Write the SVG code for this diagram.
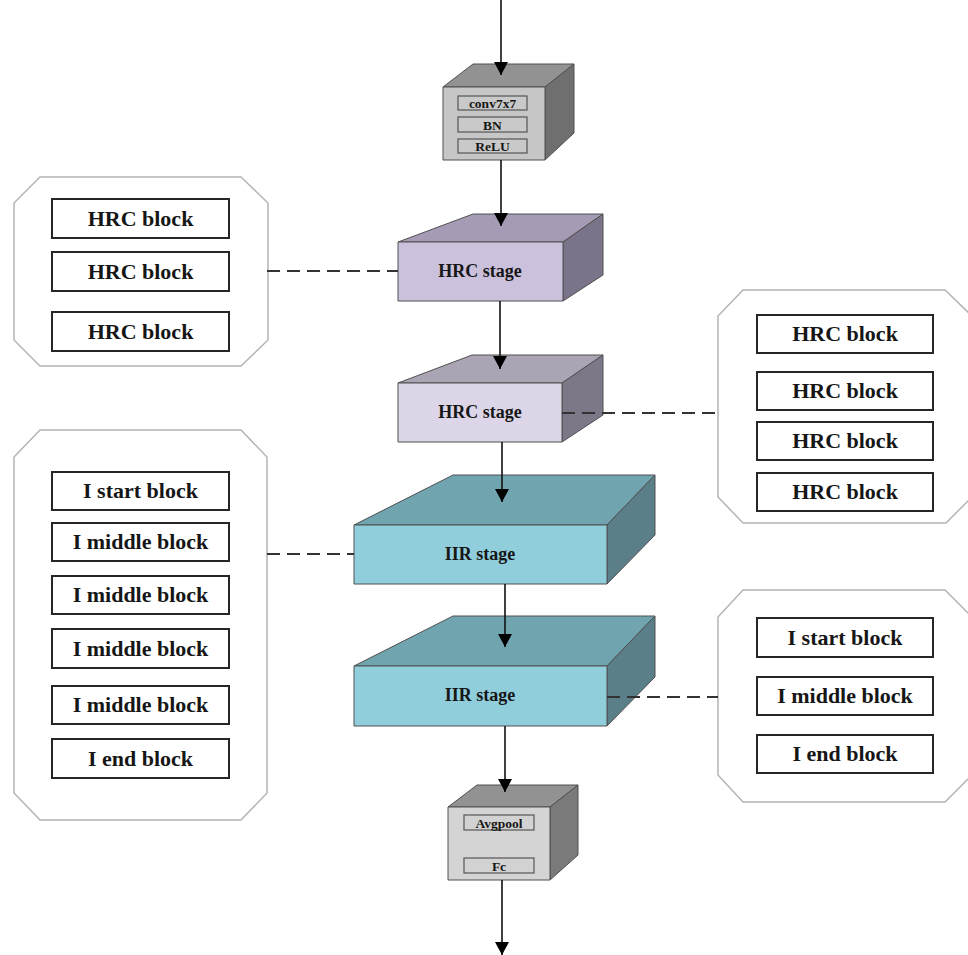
<svg xmlns="http://www.w3.org/2000/svg" width="968" height="955" viewBox="0 0 968 955">
<style>
.t{font-family:"Liberation Serif","Times New Roman",serif;font-weight:bold;fill:#161616;text-anchor:middle}
.blk{font-size:22px}
.stg{font-size:18px}
.sm{font-size:13.5px}
.panel{fill:#fff;stroke:#b4b4b4;stroke-width:1.5}
.box{fill:#fff;stroke:#262626;stroke-width:2}
.edge{stroke:#505050;stroke-width:1;stroke-linejoin:round}
.inner{stroke:#555;stroke-width:1.2}
.flow{stroke:#111;stroke-width:1.6;fill:none}
.dash{stroke:#333;stroke-width:1.8;stroke-dasharray:13 7;fill:none}
</style>
<defs>
<marker id="ah" markerWidth="14" markerHeight="14" refX="13" refY="7" orient="auto" markerUnits="userSpaceOnUse">
<path d="M0,0 L13,7 L0,14 z" fill="#000"/>
</marker>
</defs>
<rect width="968" height="955" fill="#fff"/>

<g id="conv">
<polygon class="edge" points="443,87 473,64 574,64 545,87" fill="#929292"/>
<polygon class="edge" points="545,87 574,64 574,133 545,160" fill="#6f6f6f"/>
<rect class="edge" x="443" y="87" width="102" height="73" fill="#c6c6c6"/>
<rect class="inner" x="458" y="96" width="69" height="14" fill="#c9c9c9"/>
<rect class="inner" x="458" y="117" width="69" height="15" fill="#c9c9c9"/>
<rect class="inner" x="458" y="139" width="69" height="14" fill="#c9c9c9"/>
<text class="t sm" x="492.5" y="108">conv7x7</text>
<text class="t sm" x="492.5" y="129.5">BN</text>
<text class="t sm" x="492.5" y="151">ReLU</text>
</g>

<g id="hrc-stage-1">
<polygon class="edge" points="398,242 473,214 603,214 563,242" fill="#a59bb4"/>
<polygon class="edge" points="563,242 603,214 603,275 563,301" fill="#7b7389"/>
<rect class="edge" x="398" y="242" width="165" height="59" fill="#cbc1dd"/>
<text class="t stg" x="480" y="277">HRC stage</text>
</g>

<g id="hrc-stage-2">
<polygon class="edge" points="398,383 472,355 603,355 562,383" fill="#aba4b5"/>
<polygon class="edge" points="562,383 603,355 603,415 562,442" fill="#7d7888"/>
<rect class="edge" x="398" y="383" width="164" height="59" fill="#dcd6e8"/>
<text class="t stg" x="480" y="418">HRC stage</text>
</g>

<g id="iir-stage-1">
<polygon class="edge" points="354,525 453,475 655,475 607,525" fill="#70a4af"/>
<polygon class="edge" points="607,525 655,475 655,535 607,584" fill="#5a7f88"/>
<rect class="edge" x="354" y="525" width="253" height="59" fill="#90cedc"/>
<text class="t stg" x="480" y="560">IIR stage</text>
</g>

<g id="iir-stage-2">
<polygon class="edge" points="354,666 453,616 655,616 607,666" fill="#70a4af"/>
<polygon class="edge" points="607,666 655,616 655,677 607,726" fill="#5a7f88"/>
<rect class="edge" x="354" y="666" width="253" height="60" fill="#90cedc"/>
<text class="t stg" x="480" y="701">IIR stage</text>
</g>

<g id="head">
<polygon class="edge" points="448,807 477,785 578,785 550,807" fill="#929292"/>
<polygon class="edge" points="550,807 578,785 578,855 550,880" fill="#7a7a7a"/>
<rect class="edge" x="448" y="807" width="102" height="73" fill="#d4d4d4"/>
<rect class="inner" x="464" y="815" width="70" height="15" fill="#d2d2d2"/>
<rect class="inner" x="464" y="858" width="70" height="15" fill="#d2d2d2"/>
<text class="t sm" x="499" y="827.5">Avgpool</text>
<text class="t sm" x="499" y="870.5">Fc</text>
</g>

<g id="panel-hrc-1">
<polygon class="panel" points="40,177 241,177 268,203 268,340 241,366 40,366 14,340 14,203"/>
<rect class="box" x="52" y="199" width="177" height="39"/>
<rect class="box" x="52" y="252" width="177" height="39"/>
<rect class="box" x="52" y="312" width="177" height="39"/>
<text class="t blk" x="140.5" y="226">HRC block</text>
<text class="t blk" x="140.5" y="279">HRC block</text>
<text class="t blk" x="140.5" y="339">HRC block</text>
</g>

<g id="panel-hrc-2">
<polygon class="panel" points="743,290 945,290 972,316 972,497 946,523 743,523 718,497 718,316"/>
<rect class="box" x="757" y="315" width="176" height="38"/>
<rect class="box" x="757" y="372" width="176" height="38"/>
<rect class="box" x="757" y="422" width="176" height="38"/>
<rect class="box" x="757" y="473" width="176" height="38"/>
<text class="t blk" x="845" y="341">HRC block</text>
<text class="t blk" x="845" y="398">HRC block</text>
<text class="t blk" x="845" y="448">HRC block</text>
<text class="t blk" x="845" y="499">HRC block</text>
</g>

<g id="panel-iir-1">
<polygon class="panel" points="40,430 241,430 267,457 267,793 241,820 40,820 14,793 14,457"/>
<rect class="box" x="52" y="472" width="177" height="38"/>
<rect class="box" x="52" y="523" width="177" height="38"/>
<rect class="box" x="52" y="576" width="177" height="38"/>
<rect class="box" x="52" y="629" width="177" height="39"/>
<rect class="box" x="52" y="686" width="177" height="38"/>
<rect class="box" x="52" y="739" width="177" height="39"/>
<text class="t blk" x="140.5" y="498">I start block</text>
<text class="t blk" x="140.5" y="549">I middle block</text>
<text class="t blk" x="140.5" y="602">I middle block</text>
<text class="t blk" x="140.5" y="656">I middle block</text>
<text class="t blk" x="140.5" y="712">I middle block</text>
<text class="t blk" x="140.5" y="766">I end block</text>
</g>

<g id="panel-iir-2">
<polygon class="panel" points="743,590 945,590 972,617 972,775 945,802 743,802 718,775 718,617"/>
<rect class="box" x="757" y="618" width="176" height="39"/>
<rect class="box" x="757" y="677" width="176" height="38"/>
<rect class="box" x="757" y="735" width="176" height="38"/>
<text class="t blk" x="845" y="645">I start block</text>
<text class="t blk" x="845" y="703">I middle block</text>
<text class="t blk" x="845" y="761">I end block</text>
</g>

<g id="connectors">
<line class="flow" x1="501" y1="0" x2="501" y2="75" marker-end="url(#ah)"/>
<line class="flow" x1="501" y1="160" x2="501" y2="226" marker-end="url(#ah)"/>
<line class="flow" x1="500" y1="301" x2="500" y2="369" marker-end="url(#ah)"/>
<line class="flow" x1="502" y1="442" x2="502" y2="502" marker-end="url(#ah)"/>
<line class="flow" x1="505" y1="584" x2="505" y2="647" marker-end="url(#ah)"/>
<line class="flow" x1="505" y1="726" x2="505" y2="792" marker-end="url(#ah)"/>
<line class="flow" x1="502" y1="880" x2="502" y2="955" marker-end="url(#ah)"/>
<line class="dash" x1="267" y1="271" x2="398" y2="271"/>
<line class="dash" x1="562" y1="413" x2="718" y2="413"/>
<line class="dash" x1="267" y1="554" x2="354" y2="554"/>
<line class="dash" x1="607" y1="697" x2="718" y2="697"/>
</g>
</svg>
